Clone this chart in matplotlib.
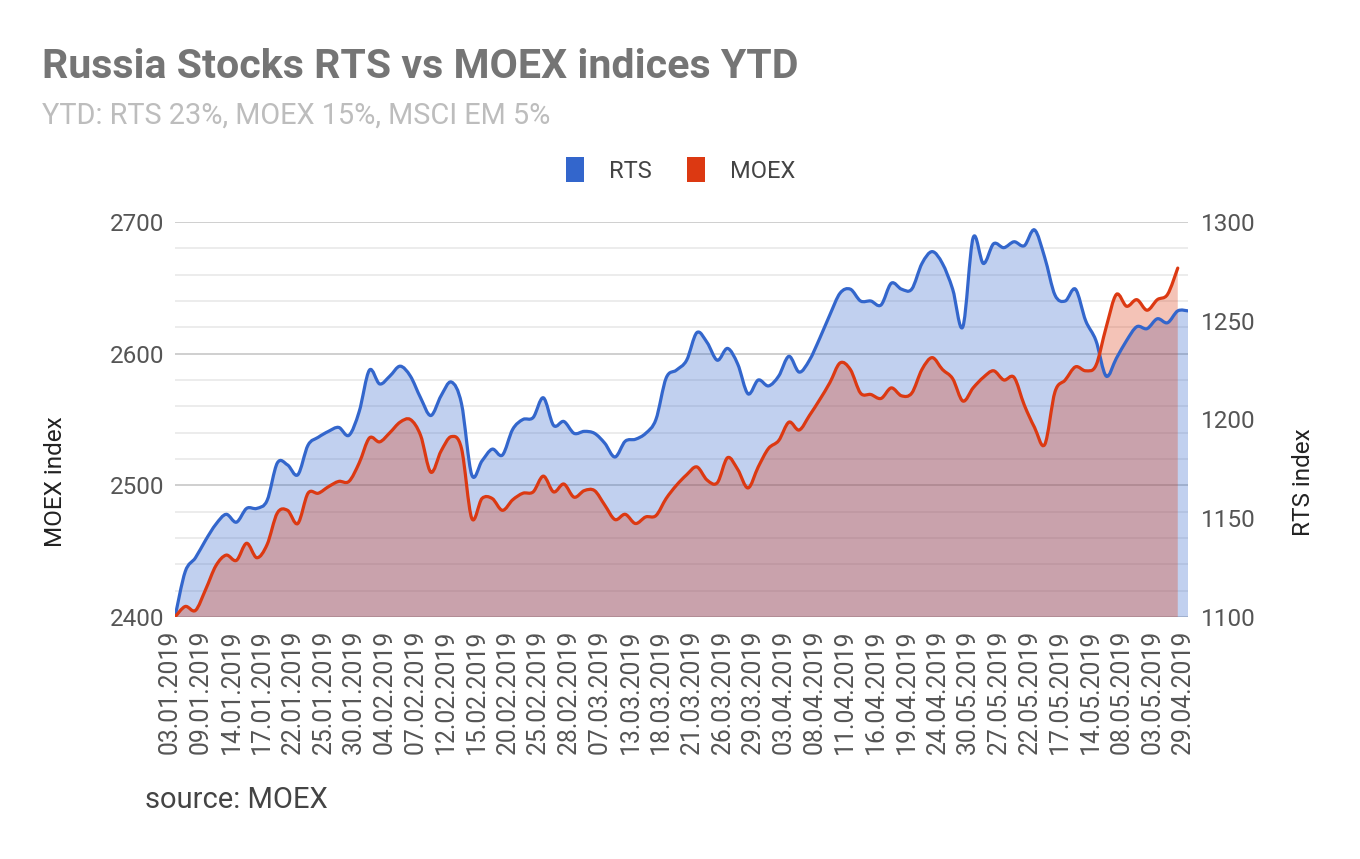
import numpy as np
import matplotlib
matplotlib.use("Agg")
import matplotlib.pyplot as plt
import matplotlib.transforms as mtransforms
from matplotlib.path import Path
from matplotlib.patches import PathPatch, Patch

plt.rcParams['font.family'] = ['Roboto', 'DejaVu Sans']

# ---------------- data ----------------
tick_labels = ["03.01.2019", "09.01.2019", "14.01.2019", "17.01.2019", "22.01.2019",
               "25.01.2019", "30.01.2019", "04.02.2019", "07.02.2019", "12.02.2019",
               "15.02.2019", "20.02.2019", "25.02.2019", "28.02.2019", "07.03.2019",
               "13.03.2019", "18.03.2019", "21.03.2019", "26.03.2019", "29.03.2019",
               "03.04.2019", "08.04.2019", "11.04.2019", "16.04.2019", "19.04.2019",
               "24.04.2019", "30.05.2019", "27.05.2019", "22.05.2019", "17.05.2019",
               "14.05.2019", "08.05.2019", "03.05.2019", "29.04.2019"]

rts = [1100, 1123, 1130, 1139, 1147, 1152, 1148, 1155, 1155, 1159,
       1178, 1177, 1172, 1187, 1191, 1194, 1196, 1192, 1204, 1225,
       1218, 1222, 1227, 1222, 1211, 1202, 1212, 1219, 1208, 1172,
       1179, 1185, 1182, 1195, 1200, 1201, 1211, 1197, 1199, 1193,
       1194, 1193, 1188, 1181, 1189, 1190, 1193, 1200, 1221, 1225,
       1230, 1244, 1239, 1230, 1236, 1228, 1213, 1220, 1217, 1222,
       1232, 1224, 1230, 1241, 1253, 1264, 1266, 1260, 1260, 1258,
       1269, 1266, 1266, 1279, 1285, 1279, 1266, 1247, 1292, 1279,
       1289, 1287, 1290, 1288, 1296, 1282, 1263, 1260, 1266, 1250,
       1240, 1222, 1231, 1240, 1247, 1246, 1251, 1249, 1255, 1255]

moex = [2400, 2408, 2405, 2421, 2439, 2447, 2443, 2456, 2445, 2455,
        2479, 2481, 2471, 2494, 2494, 2499, 2503, 2503, 2517, 2536,
        2533, 2540, 2548, 2550, 2538, 2510, 2526, 2537, 2528, 2475,
        2490, 2490, 2481, 2489, 2494, 2495, 2507, 2495, 2501, 2491,
        2496, 2496, 2485, 2474, 2478, 2471, 2476, 2477, 2490, 2500,
        2508, 2514, 2504, 2502, 2521, 2512, 2498, 2514, 2528, 2534,
        2548, 2542, 2553, 2565, 2578, 2593, 2588, 2570, 2569, 2566,
        2574, 2568, 2570, 2588, 2597, 2588, 2581, 2564, 2574, 2582,
        2587, 2580, 2582, 2561, 2544, 2531, 2571, 2580, 2590, 2587,
        2591, 2620, 2645, 2636, 2641, 2633, 2641, 2645, 2665]

series_names = ["RTS", "MOEX"]
BLUE = "#3366cc"
RED = "#dc3912"


def smooth_paths(xs, ys, base):
    """Catmull-Rom curve through the points (as cubic Bezier) + closed area path."""
    P = np.column_stack([xs, ys]).astype(float)
    n = len(P)
    verts = [tuple(P[0])]
    codes = [Path.MOVETO]
    for i in range(n - 1):
        p0 = P[i - 1] if i > 0 else P[i]
        p1 = P[i]
        p2 = P[i + 1]
        p3 = P[i + 2] if i + 2 < n else P[i + 1]
        c1 = p1 + (p2 - p0) / 6.0
        c2 = p2 - (p3 - p1) / 6.0
        verts += [tuple(c1), tuple(c2), tuple(p2)]
        codes += [Path.CURVE4] * 3
    line = Path(verts, codes)
    av = verts + [(P[-1, 0], base), (P[0, 0], base), (P[0, 0], base)]
    ac = codes + [Path.LINETO, Path.LINETO, Path.CLOSEPOLY]
    area = Path(av, ac)
    return line, area


W, H = 1360, 859
fig = plt.figure(figsize=(W / 100, H / 100), dpi=100)
fig.patch.set_facecolor("white")

L, R, T, B = 175, 1188, 222, 617
ax = fig.add_axes([L / W, 1 - B / H, (R - L) / W, (B - T) / H])   # RTS scale (right)
ax2 = ax.twinx()                                                   # MOEX scale (left)

x_rts = np.arange(len(rts))
x_moex = np.arange(len(moex))

ax.set_xlim(0, len(rts) - 1)
ax.set_ylim(1100, 1300)
ax2.set_ylim(2400, 2700)

# gridlines (every 20 MOEX points, darker every 100)
for k, g in enumerate(np.linspace(1100, 1300, 16)):
    major = (k % 5 == 0)
    ax.axhline(g, color="#cccccc" if major else "#ebebeb", lw=1.3, zorder=0.5)

line_r, area_r = smooth_paths(x_rts, rts, 1100)
line_m, area_m = smooth_paths(x_moex, moex, 2400)

# areas: RTS below, MOEX above
ax.add_patch(PathPatch(area_r, facecolor=BLUE, alpha=0.3, lw=0, zorder=1))
ax2.add_patch(PathPatch(area_m, facecolor=RED, alpha=0.3, lw=0, zorder=1))
# lines on top of both areas
ax2.add_patch(PathPatch(line_r, facecolor="none", edgecolor=BLUE, lw=2.3,
                        capstyle="round", joinstyle="round", zorder=2.9,
                        transform=ax.transData))
ax2.add_patch(PathPatch(line_m, facecolor="none", edgecolor=RED, lw=2.3,
                        capstyle="round", joinstyle="round", zorder=3))

# axes placement: MOEX on left, RTS on right
ax.yaxis.tick_right()
ax.yaxis.set_label_position("right")
ax2.yaxis.tick_left()
ax2.yaxis.set_label_position("left")

for a in (ax, ax2):
    for s in a.spines.values():
        s.set_visible(False)

TICK_C = "#555555"
ax.set_yticks([1100, 1150, 1200, 1250, 1300])
ax.set_yticklabels(["1100", "1150", "1200", "1250", "1300"])
ax2.set_yticks([2400, 2500, 2600, 2700])
ax2.set_yticklabels(["2400", "2500", "2600", "2700"])
ax.tick_params(axis="y", length=0, pad=9, labelsize=17.5, labelcolor=TICK_C)
ax2.tick_params(axis="y", length=0, pad=8, labelsize=17.5, labelcolor=TICK_C)

ax.set_xticks(np.arange(0, len(rts), 3))
ax.set_xticklabels(tick_labels, rotation=90)
ax.tick_params(axis="x", length=0, pad=9, labelsize=17.8, labelcolor=TICK_C)
shift = mtransforms.ScaledTranslation(-5 / 100, 0, fig.dpi_scale_trans)
for lab in ax.get_xticklabels():
    lab.set_verticalalignment("top")
    lab.set_transform(lab.get_transform() + shift)

ax2.set_ylabel("MOEX index", fontsize=17.5, color="#222222")
ax2.yaxis.set_label_coords((56 - L) / (R - L), (B - 482) / (B - T))
ax2.yaxis.label.set_verticalalignment("center")
ax2.yaxis.label.set_horizontalalignment("center")
ax.set_ylabel("RTS index", fontsize=17.5, color="#222222", rotation=90)
ax.yaxis.set_label_coords((1303 - L) / (R - L), (B - 482) / (B - T))
ax.yaxis.label.set_verticalalignment("center")
ax.yaxis.label.set_horizontalalignment("center")

# titles
fig.text(42 / W, 1 - 78 / H, "Russia Stocks RTS vs MOEX indices YTD",
         fontsize=29.6, fontweight="bold", color="#757575", va="baseline")
fig.text(42 / W, 1 - 124 / H, "YTD: RTS 23%, MOEX 15%, MSCI EM 5%",
         fontsize=20.8, color="#bdbdbd", va="baseline")

# legend
handles = [Patch(facecolor=BLUE, edgecolor="none"), Patch(facecolor=RED, edgecolor="none")]
fig.legend(handles, series_names, loc="center", bbox_to_anchor=(681 / W, 1 - 170 / H),
           ncol=2, frameon=False, fontsize=17, handlelength=0.76, handleheight=1.2,
           handletextpad=1.06, columnspacing=1.48, labelcolor="#444444")

fig.text(145 / W, 1 - 800 / H, "source: MOEX", fontsize=21, color="#444444", va="center")

fig.savefig("out.png", dpi=100, facecolor="white")
